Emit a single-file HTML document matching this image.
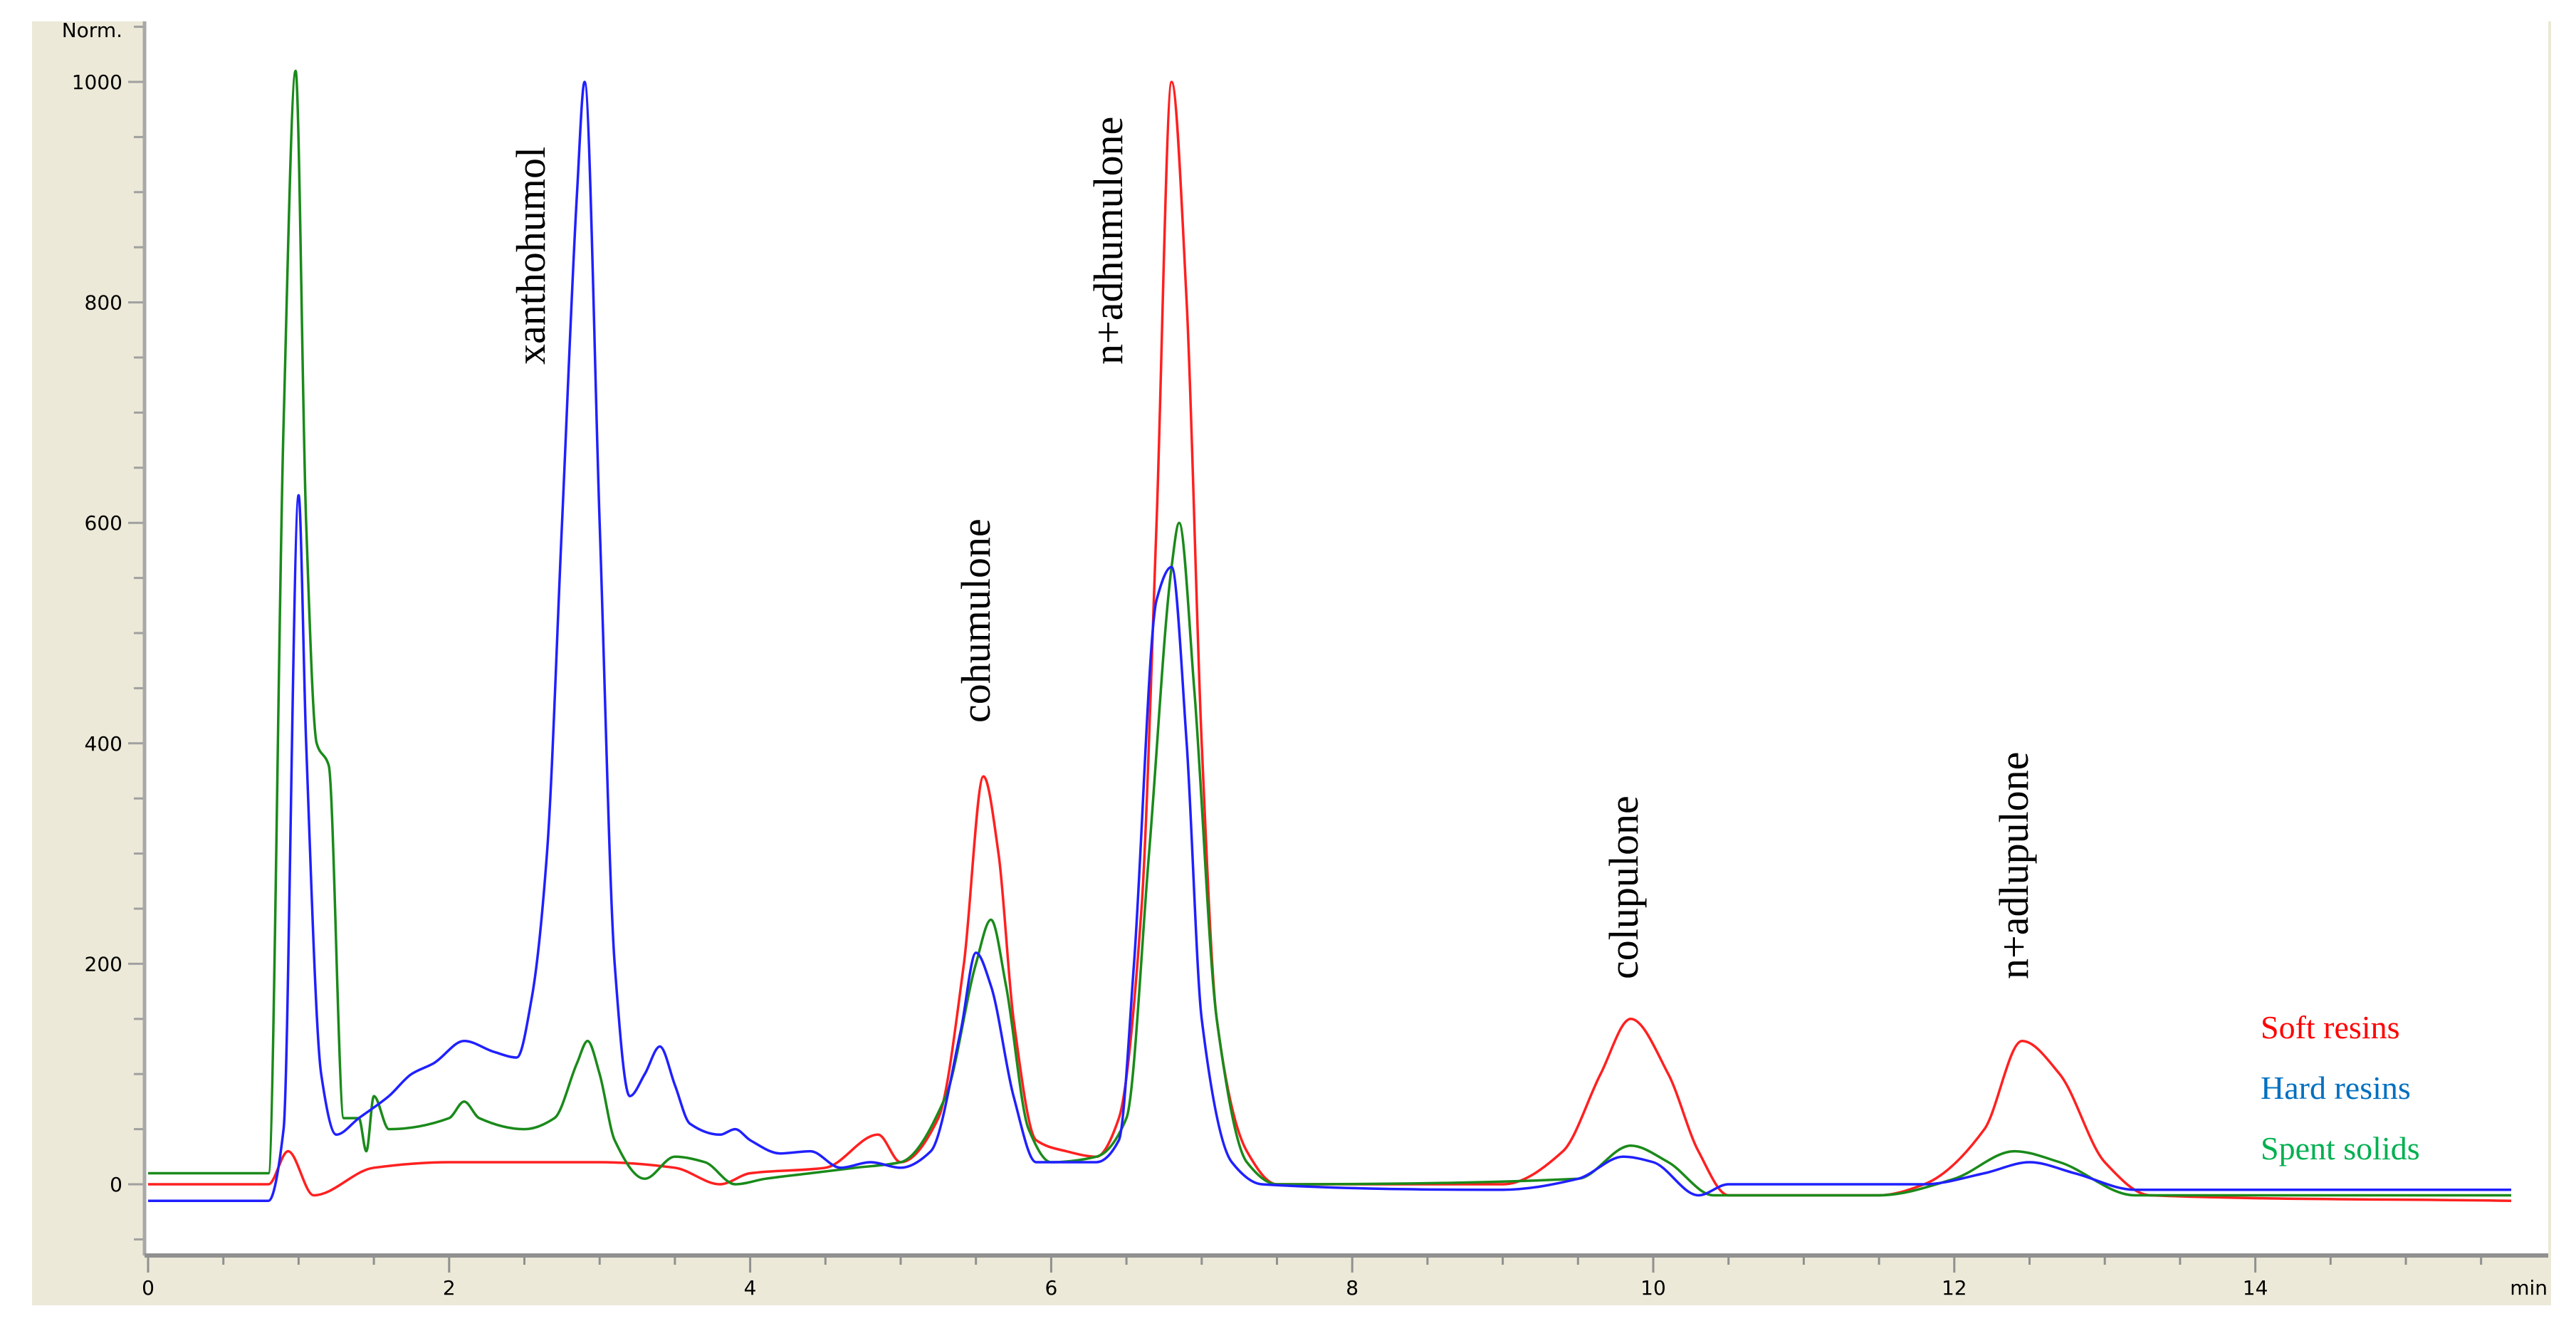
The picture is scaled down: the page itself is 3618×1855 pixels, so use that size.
<!DOCTYPE html>
<html><head><meta charset="utf-8"><style>
html,body{margin:0;padding:0;background:#fff;}
svg{display:block;}
.tk{font-family:"DejaVu Sans","Liberation Sans",sans-serif;font-size:28px;fill:#000;}
.an{font-family:"Liberation Serif",serif;font-size:58px;fill:#000;}
.lg{font-family:"Liberation Serif",serif;font-size:46px;}
</style></head><body>
<svg id="chart" width="3618" height="1855" viewBox="0 0 3618 1855" xmlns="http://www.w3.org/2000/svg">
<rect x="0" y="0" width="3618" height="1855" fill="#fff"/>
<rect x="45" y="30" width="3538" height="1803" fill="#ece9d8"/>
<rect x="203" y="30" width="3376" height="1733" fill="#fff"/>
<g id="axes"></g>
<g id="series"></g>
<g>
<text class="an" transform="translate(765,512) rotate(-90)">xanthohumol</text>
<text class="an" transform="translate(1576,512) rotate(-90)">n+adhumulone</text>
<text class="an" transform="translate(1390,1015) rotate(-90)">cohumulone</text>
<text class="an" transform="translate(2300,1375) rotate(-90)">colupulone</text>
<text class="an" transform="translate(2848,1375) rotate(-90)">n+adlupulone</text>
</g>
<g>
<text class="lg" x="3175" y="1458" fill="#ff0000">Soft resins</text>
<text class="lg" x="3175" y="1543" fill="#0070c0">Hard resins</text>
<text class="lg" x="3175" y="1628" fill="#00b050">Spent solids</text>
</g>
</svg>
<script>
const xTicks=[0,2,4,6,8,10,12,14];
const yTicks=[0,200,400,600,800,1000];
const softT=[0,0.8,0.93,1.1,1.5,2,3,3.5,3.8,4,4.5,4.85,5.0,5.25,5.42,5.55,5.65,5.75,5.9,6.1,6.3,6.45,6.6,6.7,6.8,6.9,7.0,7.1,7.3,7.5,9.0,9.4,9.65,9.85,10.1,10.3,10.5,11.5,11.8,12.2,12.45,12.7,13.0,13.3,15.7];
const softV=[0,0,30,-10,15,20,20,15,0,10,15,45,20,60,200,370,300,150,40,30,25,60,250,600,1000,800,400,150,30,0,0,30,100,150,100,30,-10,-10,0,50,130,100,20,-10,-15];
const hardT=[0,0.8,0.9,1.0,1.05,1.15,1.25,1.4,1.6,1.75,1.9,2.1,2.3,2.45,2.55,2.65,2.75,2.85,2.9,3.0,3.1,3.2,3.3,3.4,3.5,3.6,3.8,3.9,4.0,4.2,4.4,4.6,4.8,5.0,5.2,5.4,5.5,5.6,5.75,5.9,6.1,6.3,6.45,6.55,6.7,6.8,6.9,7.0,7.2,7.4,9.0,9.5,9.8,10.0,10.3,10.5,11.8,12.2,12.5,12.8,13.2,15.7];
const hardV=[-15,-15,50,625,400,100,45,60,80,100,110,130,120,115,170,300,600,900,1000,600,200,80,100,125,90,55,45,50,40,28,30,15,20,15,30,140,210,180,80,20,20,20,40,200,530,560,400,150,20,0,-5,5,25,20,-10,0,0,10,20,10,-5,-5];
const spentT=[0,0.8,0.9,0.98,1.05,1.12,1.2,1.3,1.4,1.45,1.5,1.6,2.0,2.1,2.2,2.5,2.7,2.85,2.92,3.0,3.1,3.3,3.5,3.7,3.9,4.1,4.4,4.7,5.0,5.3,5.5,5.6,5.7,5.85,6.0,6.3,6.5,6.65,6.8,6.85,6.95,7.1,7.3,7.5,9.5,9.85,10.1,10.4,11.5,12.0,12.4,12.7,13.2,15.7];
const spentV=[10,10,690,1010,600,400,380,60,60,30,80,50,60,75,60,50,60,110,130,100,40,5,25,20,0,5,10,15,20,80,200,240,180,50,20,25,60,300,560,600,450,150,20,0,5,35,20,-10,-10,5,30,20,-10,-10];

const X0=208, PXMIN=211.4, Y0=1663, PXUNIT=1.548;
function xs(t){return X0+t*PXMIN;}
function ys(v){return Y0-v*PXUNIT;}
const NS='http://www.w3.org/2000/svg';
const axes=document.getElementById('axes');
function mk(tag,attrs,parent){const e=document.createElementNS(NS,tag);for(const k in attrs)e.setAttribute(k,attrs[k]);parent.appendChild(e);return e;}

let yl=mk('line',{x1:203,y1:30,x2:203,y2:1763,stroke:'#a8a8a8','stroke-width':5},axes);


let xl=mk('line',{x1:203,y1:1763,x2:3579,y2:1763,stroke:'#909090','stroke-width':6},axes);


for(let v=-50;v<=1050;v+=50){
  const major=(v%200===0&&v>=0&&v<=1000);
  const t=mk('line',{x1:major?180:188,y1:ys(v),x2:201,y2:ys(v),stroke:'#a0a0a0','stroke-width':3},axes);
  
  
}
yTicks.forEach(v=>{const t=mk('text',{x:172,y:ys(v)+10,'text-anchor':'end',class:'tk'},axes);t.textContent=String(v);
  
  });
let nm=mk('text',{x:172,y:52,'text-anchor':'end',class:'tk','font-size':'24'},axes);nm.textContent='Norm.';


for(let k=0;k<=31;k++){const t=k*0.5;const x=xs(t);if(x>3579)break;
  const major=(k%4===0);
  const tl=mk('line',{x1:x,y1:1763,x2:x,y2:major?1787:1776,stroke:'#909090','stroke-width':3},axes);
  
  }
xTicks.forEach(v=>{const t=mk('text',{x:xs(v),y:1818,'text-anchor':'middle',class:'tk'},axes);t.textContent=String(v);
  
  });
let mn=mk('text',{x:3578,y:1818,'text-anchor':'end',class:'tk','font-size':'24'},axes);mn.textContent='min';



const series=document.getElementById('series');
// monotone cubic path (Fritsch-Carlson) for rounded peaks
function monoPath(P){
  const n=P.length;const dx=[],dy=[],m=[],tg=[];
  for(let i=0;i<n-1;i++){dx[i]=P[i+1][0]-P[i][0];dy[i]=P[i+1][1]-P[i][1];m[i]=dy[i]/dx[i];}
  tg[0]=m[0];tg[n-1]=m[n-2];
  for(let i=1;i<n-1;i++){
    if(m[i-1]*m[i]<=0)tg[i]=0;
    else{const w1=2*dx[i]+dx[i-1],w2=dx[i]+2*dx[i-1];tg[i]=(w1+w2)/(w1/m[i-1]+w2/m[i]);}
  }
  let d='M'+P[0][0].toFixed(1)+','+P[0][1].toFixed(1);
  for(let i=0;i<n-1;i++){
    const h=dx[i]/3;
    d+=' C'+(P[i][0]+h).toFixed(1)+','+(P[i][1]+tg[i]*h).toFixed(1)+' '+(P[i+1][0]-h).toFixed(1)+','+(P[i+1][1]-tg[i+1]*h).toFixed(1)+' '+P[i+1][0].toFixed(1)+','+P[i+1][1].toFixed(1);
  }
  return d;
}
function drawLine(T,V,color,name){
  const P=T.map((t,i)=>[xs(t),ys(V[i])]);
  const p=mk('path',{d:monoPath(P),fill:'none',stroke:color,'stroke-width':3.5,'stroke-linejoin':'round'},series);
  
  
}
drawLine(softT,softV,'#ff2020','series-soft-resins');
drawLine(spentT,spentV,'#1a8a1a','series-spent-solids');
drawLine(hardT,hardV,'#2020ff','series-hard-resins');
</script>
</body></html>
